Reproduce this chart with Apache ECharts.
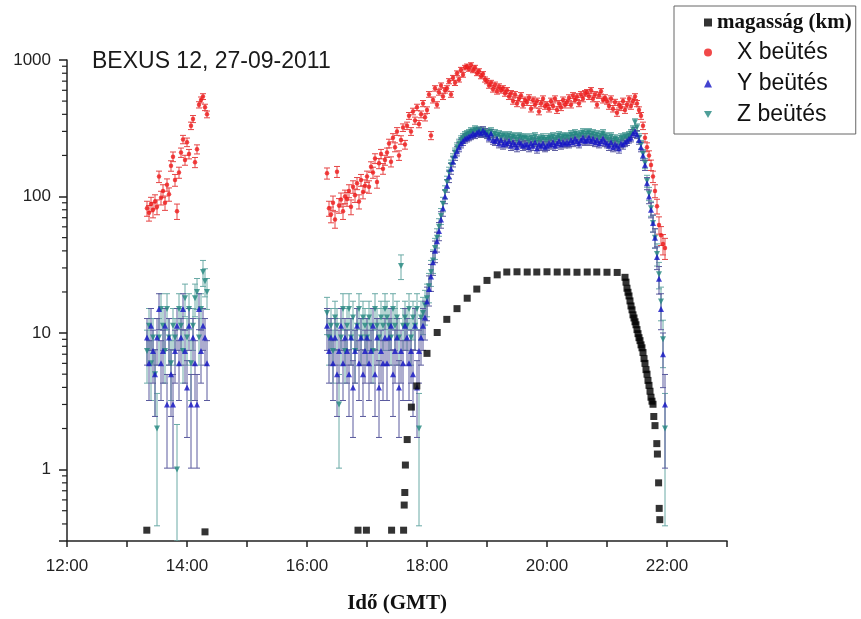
<!DOCTYPE html>
<html>
<head>
<meta charset="utf-8">
<script src="https://cdn.jsdelivr.net/npm/echarts@6/dist/echarts.min.js"></script>
<style>
  html, body { margin: 0; background: #fff; }
  #grafica { width: 861px; height: 619px; }
</style>
</head>
<body>
<div id="grafica"></div>
<script>
// beütések 2 percenként, két szakaszban (13:20-tól és 16:20-tól)
const start1 = 13 * 60 + 20;
const start2 = 16 * 60 + 20;

const xBeutes1 = [82, 76, 88, 80, 92, 84, 140, 98, 110, 90, 122, 104, 168, 196, 132, 78, 150, 210, 262, 185,
  250, 205, 330, 370, 178, 222, 470, 510, 540, 450, 400];
const yBeutes1 = [9.3, 6, 11.3, 7.4, 5, 9.3, 15, 6, 7.4, 11.3, 3, 9.3, 5, 3, 7.4, 11.3, 6, 9.3, 15, 7.4,
  4, 11.3, 3, 9.3, 6, 3, 15, 7.4, 11.3, 9.3, 6];
const zBeutes1 = [7.4, 11.3, 6, 9.3, 5, 2, 9.3, 15, 11.3, 7.4, 15, 9.3, 6, 11.3, 9.3, 1, 15, 11.3, 7.4, 18,
  9.3, 15, 6, 11.3, 18, 20, 9.3, 15, 28, 24, 20];

const xBeutes2 = [
  148, 82, 74, 90, 68, 152, 86, 95, 78, 100,
  96, 110, 84, 118, 102, 125, 92, 132, 108, 120,
  140, 118, 165, 150, 190, 128, 175, 205, 160, 185,
  210, 245, 180, 270, 230, 300, 200, 260, 320, 240,
  330, 390, 300, 420, 360, 450, 340, 400, 480, 380,
  430, 560, 280, 510, 620, 470, 580, 650, 540, 600,
  620, 700, 560, 740, 680, 800, 720, 850, 780, 880,
  900, 860, 920, 840, 880, 800, 830, 760, 790, 720,
  700, 650, 680, 610, 660, 590, 640, 600, 620, 570,
  600, 540, 570, 500, 560, 480, 520, 550, 470, 510,
  490, 530, 440, 510, 470, 500, 420, 480, 520, 460,
  470, 440, 500, 460, 520, 430, 480, 450, 510, 470,
  490, 530, 470, 550, 510, 540, 480, 560, 520, 570,
  580, 540, 600, 520, 560, 470, 550, 590, 510, 530,
  500, 460, 520, 440, 490, 410, 470, 450, 500, 430,
  470, 520, 460, 500, 540, 480, 430, 390, 330, 270,
  230, 200, 170, 140, 110, 85, 62, 52, 45, 42
];
const yBeutes2 = [
  11.3, 7.4, 9.3, 6, 9.3, 5, 7.4, 11.3, 6, 9.3,
  7.4, 5, 9.3, 4, 7.4, 11.3, 6, 9.3, 5, 7.4,
  9.3, 6, 7.4, 11.3, 5, 9.3, 4, 7.4, 6, 9.3,
  6, 9.3, 11.3, 5, 7.4, 9.3, 4, 7.4, 6, 11.3,
  9.3, 6, 7.4, 5, 11.3, 4, 7.4, 9.3, 11.3, 13,
  17, 21, 26, 33, 40, 47, 56, 68, 82, 100,
  120, 140, 160, 180, 200, 215, 230, 245, 255, 265,
  270, 275, 280, 290, 285, 295, 300, 290, 305, 295,
  285, 270, 290, 260, 255, 265, 245, 260, 240, 250,
  245, 255, 235, 250, 240, 230, 250, 245, 235, 240,
  240, 230, 245, 235, 250, 225, 240, 235, 245, 230,
  235, 245, 240, 250, 235, 245, 255, 240, 250, 245,
  250, 245, 260, 250, 265, 255, 245, 260, 270, 255,
  260, 270, 255, 265, 250, 260, 245, 255, 265, 250,
  245, 235, 250, 230, 240, 235, 225, 245, 240, 250,
  255, 265, 270, 290, 300, 285, 260, 230, 200, 170,
  125, 100, 80, 64, 50, 36, 25, 15, 7, 3
];
const zBeutes2 = [
  14, 9.3, 11.3, 7.4, 13, 11.3, 3, 9.3, 15, 7.4,
  11.3, 15, 9.3, 13, 7.4, 11.3, 15, 9.3, 13, 11.3,
  9.3, 13, 11.3, 7.4, 15, 11.3, 9.3, 13, 11.3, 15,
  13, 11.3, 9.3, 15, 11.3, 13, 9.3, 31, 11.3, 13,
  11.3, 15, 9.3, 13, 11.3, 15, 2, 13, 14, 16,
  18, 22, 28, 34, 42, 50, 60, 72, 88, 108,
  128, 150, 170, 190, 210, 230, 245, 260, 270, 280,
  285, 290, 300, 295, 310, 300, 305, 295, 300, 290,
  295, 285, 300, 280, 290, 275, 285, 270, 280, 275,
  270, 280, 265, 275, 270, 260, 275, 270, 265, 270,
  265, 255, 270, 260, 275, 255, 265, 260, 270, 260,
  260, 270, 265, 275, 260, 270, 280, 265, 275, 270,
  275, 270, 285, 275, 290, 280, 275, 285, 295, 280,
  290, 295, 280, 290, 275, 285, 270, 280, 290, 275,
  270, 260, 275, 255, 265, 260, 250, 270, 265, 275,
  270, 280, 290, 310, 350, 320, 270, 240, 205, 175,
  130, 105, 82, 64, 50, 38, 27, 17, 9, 2
];

// magasság (km), időpont órában
const magIdo = [13.33, 14.30, 16.85, 16.99, 17.41, 17.61, 17.62, 17.63, 17.64, 17.67, 17.74, 17.83,
  18.00, 18.17, 18.33, 18.50, 18.67, 18.83, 19.00, 19.17, 19.33, 19.50, 19.67, 19.83,
  20.00, 20.17, 20.33, 20.50, 20.67, 20.83, 21.00, 21.17,
  21.300, 21.317, 21.333, 21.350, 21.367, 21.383, 21.400, 21.417, 21.433, 21.450,
  21.467, 21.483, 21.500, 21.517, 21.533, 21.550, 21.567, 21.583, 21.600, 21.617,
  21.633, 21.650, 21.667, 21.683, 21.700, 21.717, 21.733, 21.750, 21.767,
  21.78, 21.80, 21.83, 21.84, 21.86, 21.87, 21.88];
const magKm = [0.36, 0.35, 0.36, 0.36, 0.36, 0.36, 0.55, 0.68, 1.08, 1.66, 2.87, 4.1,
  7.1, 10.1, 12.6, 15.1, 18.0, 21.0, 24.3, 26.7, 28.0, 28.1, 28.0, 28.0,
  28.1, 28.0, 28.0, 27.9, 28.0, 28.0, 27.9, 27.8,
  25.6, 23.6, 21.3, 19.9, 18.7, 17.2, 15.8, 14.8, 13.6, 12.9,
  12.1, 11.5, 10.6, 9.9, 9.25, 8.8, 8.2, 7.8, 7.2, 6.5,
  6.0, 5.4, 5.0, 4.5, 4.14, 3.75, 3.39, 3.17, 3.01,
  2.45, 2.1, 1.55, 1.3, 0.8, 0.52, 0.43];

const yTicks = [1, 10, 100, 1000];
const minorTicks = [0.4, 0.5, 0.6, 0.7, 0.8, 0.9, 2, 3, 4, 5, 6, 7, 8, 9,
  20, 30, 40, 50, 60, 70, 80, 90, 200, 300, 400, 500, 600, 700, 800, 900];
const xTickLabels = { 12: "12:00", 14: "14:00", 16: "16:00", 18: "18:00", 20: "20:00", 22: "22:00" };

const yMin = 0.3;
const lefeleHaromszog = "path://M0,0L10,0L5,9Z";

const pts = (start, vals) => vals.map((v, i) => [(start + 2 * i) / 60, v]);
const xData = pts(start1, xBeutes1).concat(pts(start2, xBeutes2));
const yData = pts(start1, yBeutes1).concat(pts(start2, yBeutes2));
const zData = pts(start1, zBeutes1).concat(pts(start2, zBeutes2));
const magData = magIdo.map((t, i) => [t, magKm[i]]);

// Poisson hiba a beütésszámból
const withErr = d => d.map(([t, v]) => {
  const e = Math.sqrt(1.3 * v);
  return [t, v, Math.max(v - e, yMin), v + e];
});

const errBar = color => (params, api) => {
  const top = api.coord([api.value(0), api.value(3)]);
  const bot = api.coord([api.value(0), api.value(2)]);
  const st = { stroke: color, lineWidth: 1 };
  return {
    type: "group",
    children: [
      { type: "line", shape: { x1: top[0], y1: top[1], x2: bot[0], y2: bot[1] }, style: st },
      { type: "line", shape: { x1: top[0] - 3, y1: top[1], x2: top[0] + 3, y2: top[1] }, style: st },
      { type: "line", shape: { x1: bot[0] - 3, y1: bot[1], x2: bot[0] + 3, y2: bot[1] }, style: st },
    ],
  };
};

const errSeries = (data, color) => ({
  type: "custom",
  data: withErr(data),
  encode: { x: 0, y: 1 },
  renderItem: errBar(color),
  clip: true,
  silent: true,
});

const getOptionChart = () => {
  return {
    animation: false,
    title: {
      text: "BEXUS 12, 27-09-2011",
      left: 92,
      top: 50,
      padding: 0,
      textStyle: { fontFamily: "Liberation Sans", fontSize: 23, fontWeight: "normal", color: "#1a1a1a" },
    },
    legend: {
      orient: "vertical",
      left: 674,
      top: 6,
      padding: [6, 4, 8, 30],
      itemGap: 8,
      itemWidth: 8,
      itemHeight: 8,
      borderColor: "#666",
      borderWidth: 1,
      data: [
        { name: "magasság (km)" },
        { name: "X beütés" },
        { name: "Y beütés" },
        { name: "Z beütés", icon: lefeleHaromszog },
      ],
      formatter: n => (n === "magasság (km)" ? "{m|" + n + "}" : "{s|" + n + "}"),
      textStyle: {
        rich: {
          m: { fontFamily: "Liberation Serif", fontWeight: "bold", fontSize: 21, color: "#111" },
          s: { fontFamily: "Liberation Sans", fontSize: 23, color: "#111", padding: [0, 0, 0, 20] },
        },
      },
    },
    grid: { left: 67, right: 134, top: 60, bottom: 74 },
    xAxis: {
      type: "value",
      min: 12,
      max: 23,
      interval: 1,
      splitLine: { show: false },
      axisLine: { lineStyle: { color: "#222", width: 1.5 } },
      axisTick: { length: 6, lineStyle: { color: "#222", width: 1.5 } },
      axisLabel: {
        formatter: v => xTickLabels[v] || "",
        fontFamily: "Liberation Sans",
        fontSize: 17,
        color: "#222",
        margin: 17,
      },
      name: "Idő (GMT)",
      nameLocation: "middle",
      nameGap: 52,
      nameTextStyle: { fontFamily: "Liberation Serif", fontWeight: "bold", fontSize: 21, color: "#111" },
    },
    yAxis: {
      type: "log",
      logBase: 10,
      min: yMin,
      max: 1000,
      splitLine: { show: false },
      axisLine: { show: true, lineStyle: { color: "#222", width: 1.5 } },
      axisTick: { show: true, length: 8, lineStyle: { color: "#222", width: 1.5 } },
      axisLabel: {
        formatter: v => {
          const r = Math.round(v);
          return yTicks.includes(r) && Math.abs(v - r) < 0.01 ? String(r) : "";
        },
        fontFamily: "Liberation Sans",
        fontSize: 17,
        color: "#222",
        margin: 16,
      },
    },
    series: [
      {
        // kis osztásjelek a log tengelyen
        type: "custom",
        data: minorTicks.map(v => [12, v]),
        encode: { x: 0, y: 1 },
        clip: false,
        silent: true,
        renderItem: (params, api) => {
          const c = api.coord([12, api.value(1)]);
          return {
            type: "line",
            shape: { x1: c[0] - 5, y1: c[1], x2: c[0], y2: c[1] },
            style: { stroke: "#222", lineWidth: 1.2 },
          };
        },
      },
      errSeries(xData, "#e64545"),
      { name: "X beütés", type: "scatter", data: xData, symbol: "circle", symbolSize: 4.5, itemStyle: { color: "#ee1c1c" } },
      errSeries(zData, "#6aaaa6"),
      { name: "Z beütés", type: "scatter", data: zData, symbol: "triangle", symbolRotate: 180, symbolSize: 6, itemStyle: { color: "#23877f" } },
      errSeries(yData, "#5a5a9e"),
      { name: "Y beütés", type: "scatter", data: yData, symbol: "triangle", symbolSize: 6, itemStyle: { color: "#1414c4" } },
      { name: "magasság (km)", type: "scatter", data: magData, symbol: "rect", symbolSize: 7, itemStyle: { color: "#000" } },
    ],
  };
};

const initCharts = () => {
  const chart = echarts.init(document.querySelector("#grafica"));
  chart.setOption(getOptionChart());
};

initCharts();
</script>
</body>
</html>
